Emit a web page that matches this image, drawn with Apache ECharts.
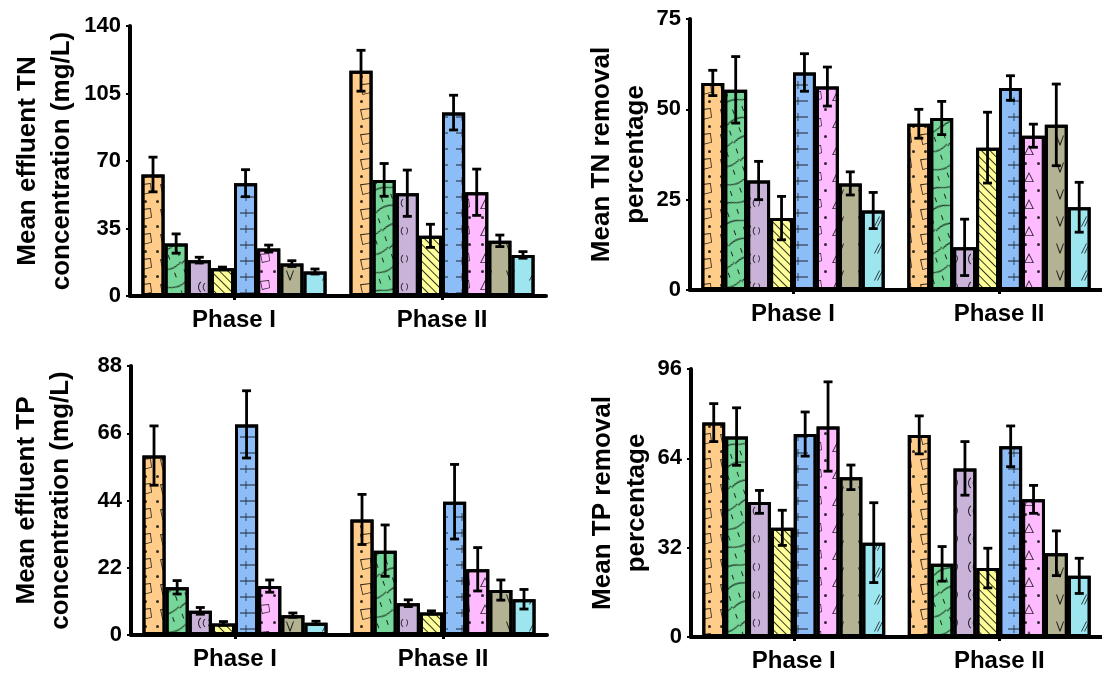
<!DOCTYPE html>
<html><head><meta charset="utf-8">
<script src="https://cdn.jsdelivr.net/npm/echarts@6/dist/echarts.min.js"></script>
<style>html,body{margin:0;padding:0;background:#fff}#c{width:1102px;height:673px}</style>
</head><body><div id="c"></div>
<script>
// ---------- data ----------
const categories = ['Phase I', 'Phase II'];
// each entry: [Phase I, Phase II] for one of the eight treatments
const tnEffluentMean = [[63.0,116.8],[27.2,60.2],[18.6,53.3],[14.4,31.2],[58.5,95.1],[24.6,53.8],[16.8,28.6],[12.7,21.3]];
const tnEffluentErr  = [[9.0,10.6],[5.0,8.5],[1.5,12.0],[0.6,6.0],[7.0,9.0],[1.8,12.0],[1.5,3.0],[1.3,1.7]];
const tnRemovalMean  = [[57.3,46.0],[55.4,47.6],[30.3,11.8],[19.9,39.4],[60.2,55.9],[56.3,42.7],[29.5,45.7],[22.0,22.9]];
const tnRemovalErr   = [[3.5,4.0],[9.2,4.6],[5.3,7.8],[6.0,9.8],[5.2,3.4],[5.4,3.2],[3.2,11.3],[5.0,6.9]];
const tpEffluentMean = [[58.7,37.8],[15.6,27.6],[7.9,10.4],[3.8,7.4],[68.9,43.6],[16.0,21.5],[6.5,14.7],[4.0,11.7]];
const tpEffluentErr  = [[9.7,8.2],[2.2,8.4],[1.1,1.1],[0.6,0.5],[11.0,12.2],[2.0,7.1],[0.7,3.3],[0.5,3.2]];
const tpRemovalMean  = [[76.8,72.4],[71.8,26.2],[48.4,60.4],[39.1,24.7],[72.7,68.3],[75.4,49.3],[57.2,30.0],[33.8,21.9]];
const tpRemovalErr   = [[6.8,6.8],[10.3,6.2],[4.1,9.6],[6.3,7.1],[7.9,7.3],[16.0,5.0],[4.4,8.0],[14.3,6.3]];
const yMax = [140, 75, 88, 96];
const yStep = [35, 25, 22, 32];
const yNames = ['Mean effluent TN\nconcentration (mg/L)', 'Mean TN removal\npercentage',
                'Mean effluent TP\nconcentration (mg/L)', 'Mean TP removal\npercentage'];

// ---------- styles ----------
const colors = ['#FFCC8A','#77D699','#C9B3D9','#FFFF99','#8CBDF7','#FFBBFF','#B3B394','#9DE6EF'];
const FONT = '"Liberation Sans", Arial, sans-serif';
const GAP = 0.11;
const dc = 'rgba(0,0,0,0.8)';
const ring = 'path://M0,1 L9,0 L10,8 L2,10 Z M1.0,1.8 L2.5,9.1 L9.2,7.4 L8.4,0.9 Z';
const tri = 'path://M5,0 L10,10 L0,10 Z M5,2.0 L1.4,9.2 L8.6,9.2 Z';
const wave = 'path://M0,5 C7,1 13,1 20,4 C27,7 33,7 40,3 L40,4.2 C33,8.2 27,8.2 20,5.2 C13,2.2 7,2.2 0,6.2 Z';
const decals = [
  {symbol: [['circle', 'circle'], [ring]], dashArrayX: [[2.5,9],[12,8]], dashArrayY: [2.5,5,12,5], color: dc},
  {symbol: [[wave], ['rect']], dashArrayX: [[40,0],[1,9]], dashArrayY: [10,2,5,2], rotation: -0.35, color: dc},
  {symbol: 'path://M3,0 C0,3 0,7 3,10 L3.7,9.5 C1.1,6.8 1.1,3.2 3.7,0.5 Z M7,1 C4.5,3.5 4.5,6.5 7,9 L7.6,8.5 C5.5,6.3 5.5,3.7 7.6,1.5 Z M10,2 C12,4 11,6 10,8 L10.6,8.3 C11.8,6 12.8,4 10.6,1.6 Z',
   dashArrayX: [[12,10]], dashArrayY: [14,14], color: dc},
  {symbol: 'rect', dashArrayX: [1,0], dashArrayY: [1,5], rotation: Math.PI/4, color: dc},
  {symbol: 'path://M0,4.6 L16,4.6 L16,5.4 L0,5.4 Z M5.6,1 L6.4,1 L6.4,9 L5.6,9 Z',
   dashArrayX: [[16,8]], dashArrayY: [10,6], color: dc},
  {symbol: [['circle'], [tri, ring]], dashArrayX: [[2.5,10],[10,10]], dashArrayY: [2.5,7,10,7], color: dc},
  {symbol: 'path://M0,0 L1,0 L4,8 L7,0 L8,0 L4.5,10 L3.5,10 Z', dashArrayX: [[8,14]], dashArrayY: [11,16], color: dc},
  {symbol: 'path://M0,10 L5,0 L5.9,0 L0.9,10 Z M3,10 L8,0 L8.9,0 L3.9,10 Z', dashArrayX: [[9,14]], dashArrayY: [11,16], color: dc}
];

const grids = [
  {left: 130, top: 26, width: 416, height: 270},
  {left: 690, top: 19, width: 414, height: 271},
  {left: 131, top: 366, width: 416, height: 269},
  {left: 691, top: 369, width: 414, height: 270}
];
const nameGaps = [51, 32, 53, 36];
const means = [tnEffluentMean, tnRemovalMean, tpEffluentMean, tpRemovalMean];
const errs = [tnEffluentErr, tnRemovalErr, tpEffluentErr, tpRemovalErr];

function errRender(params, api) {
  const cat = api.value(0), idx = api.value(1), v = api.value(2), e = api.value(3);
  const cw = api.size([1, 0])[0];
  const gw = cw * (1 - GAP);
  const bw = gw / 8;
  const base = api.coord([cat, 0]);
  const x = base[0] - gw / 2 + (idx + 0.5) * bw;
  const yT = api.coord([cat, v + e])[1];
  const yB = api.coord([cat, v - e])[1];
  const cap = 4.5, lw = 2.8;
  const st = {stroke: '#000', lineWidth: lw};
  return {type: 'group', children: [
    {type: 'line', shape: {x1: x, y1: yT, x2: x, y2: yB}, style: st},
    {type: 'line', shape: {x1: x - cap, y1: yT, x2: x + cap, y2: yT}, style: st},
    {type: 'line', shape: {x1: x - cap, y1: yB, x2: x + cap, y2: yB}, style: st}
  ]};
}

const xAxis = [], yAxis = [], series = [];
for (let p = 0; p < 4; p++) {
  xAxis.push({
    type: 'category', gridIndex: p, data: categories,
    axisLine: {lineStyle: {color: '#000', width: 4}},
    axisTick: {show: true, alignWithLabel: true, length: 4, lineStyle: {color: '#000', width: 3}},
    axisLabel: {color: '#000', fontFamily: FONT, fontWeight: 'bold', fontSize: 24, margin: 12},
    splitLine: {show: false}
  });
  yAxis.push({
    type: 'value', gridIndex: p, min: 0, max: yMax[p], interval: yStep[p],
    name: yNames[p], nameLocation: 'middle', nameGap: nameGaps[p], nameRotate: 90,
    nameTextStyle: {color: '#000', fontFamily: FONT, fontWeight: 'bold', fontSize: 26, lineHeight: 34},
    axisLine: {show: true, lineStyle: {color: '#000', width: 4}},
    axisTick: {show: true, length: 4, lineStyle: {color: '#000', width: 2}},
    axisLabel: {color: '#000', fontFamily: FONT, fontWeight: 'bold', fontSize: 22, margin: 9},
    splitLine: {show: false}
  });
  for (let s = 0; s < 8; s++) {
    series.push({
      type: 'bar', xAxisIndex: p, yAxisIndex: p,
      data: means[p][s], barGap: '0%', barCategoryGap: (GAP * 100) + '%',
      itemStyle: {color: colors[s], borderColor: '#000', borderWidth: 3, decal: decals[s]},
      emphasis: {disabled: true}, z: 2
    });
  }
  const ed = [];
  for (let c = 0; c < 2; c++) for (let s = 0; s < 8; s++) ed.push([c, s, means[p][s][c], errs[p][s][c]]);
  series.push({
    type: 'custom', xAxisIndex: p, yAxisIndex: p, renderItem: errRender,
    encode: {x: 0, y: 2}, data: ed, z: 5, silent: true
  });
}

const chart = echarts.init(document.getElementById('c'), null, {renderer: 'canvas'});
chart.setOption({
  animation: false, backgroundColor: '#fff',
  grid: grids, xAxis: xAxis, yAxis: yAxis, series: series
});
</script></body></html>
